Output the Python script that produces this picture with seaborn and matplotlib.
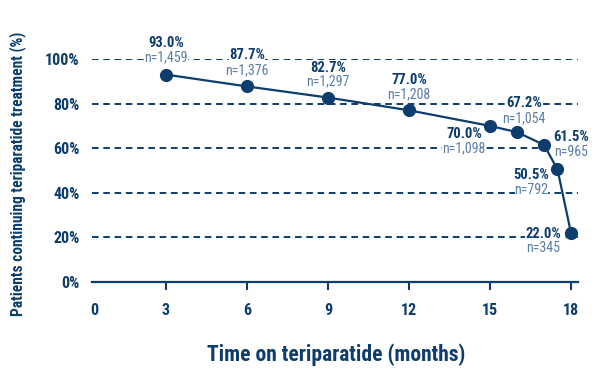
import matplotlib
matplotlib.use('Agg')
import matplotlib.pyplot as plt
import matplotlib.transforms as mtransforms
import seaborn as sns
import pandas as pd

# Data
months = [3, 6, 9, 12, 15, 16, 17, 17.5, 18]
pct_continuing = [93.0, 87.7, 82.7, 77.0, 70.0, 67.2, 61.5, 50.5, 22.0]
n_patients = ['1,459', '1,376', '1,297', '1,208', '1,098', '1,054', '965', '792', '345']
x_ticks = [0, 3, 6, 9, 12, 15, 18]
y_ticks = [0, 20, 40, 60, 80, 100]

# label placement in pixels: (dx, dy of percent label, dy of n label)
label_px = [(0, 32, 17), (0, 31, 16), (0, 30, 16), (0, 30, 16), (-26, -8, -22),
            (7, 29, 14), (27, 8, -7), (-26, -6, -21), (-28, -1, -15)]

navy = '#0d3d6d'
light = '#5a7da6'

sns.set_style('white')
plt.rcParams['font.family'] = ['Roboto Condensed', 'DejaVu Sans']

df = pd.DataFrame({'month': months, 'pct': pct_continuing})

fig = plt.figure(figsize=(6, 3.71), dpi=100)
ax = fig.add_axes([85 / 600, 1 - 282 / 371, 493 / 600, 223 / 371])
ax.set_xlim(0, 18.26)
ax.set_ylim(0, 100)

x_start = 0.26  # gridlines / axis line start just right of the 0 label

# dashed gridlines
ax.hlines(y_ticks[1:], x_start, 18.26, color=navy, lw=1.4, ls=(0, (3.4, 2.4)), zorder=0)

sns.lineplot(data=df, x='month', y='pct', ax=ax, color=navy, lw=1.6,
             marker='o', markersize=9.5, markeredgewidth=0, zorder=3)

pt = 0.72  # px -> points at 100 dpi
for m, p, n, (dx, dyp, dyn) in zip(months, pct_continuing, n_patients, label_px):
    ax.annotate(f'n={n}', (m, p), xytext=(dx * pt, dyn * pt), textcoords='offset points',
                ha='center', va='center', fontsize=10, color=light,
                bbox=dict(facecolor='white', edgecolor='none', pad=0), zorder=4,
                annotation_clip=False)
    ax.annotate(f'{p:.1f}%', (m, p), xytext=(dx * pt, dyp * pt), textcoords='offset points',
                ha='center', va='center', fontsize=10.5, fontweight='bold', color=navy,
                bbox=dict(facecolor='white', edgecolor='none', pad=0), zorder=5,
                annotation_clip=False)

ax.set_xticks(x_ticks)
ax.set_yticks(y_ticks)
ax.set_yticklabels([f'{v}%' for v in y_ticks])

for s in ['top', 'right', 'left']:
    ax.spines[s].set_visible(False)
ax.spines['bottom'].set_color(navy)
ax.spines['bottom'].set_linewidth(1.6)
ax.spines['bottom'].set_bounds(x_start, 18.26)

ax.tick_params(axis='x', bottom=True, direction='out', length=6, width=1.5, color=navy,
               labelsize=11.5, labelcolor=navy, pad=9)
ax.tick_params(axis='y', left=False, length=0, labelsize=11.5, labelcolor=navy, pad=4)
for lbl in ax.get_xticklabels() + ax.get_yticklabels():
    lbl.set_fontweight('bold')

# no tick mark at 0
tick0 = ax.xaxis.get_major_ticks()[0]
tick0.tick1line.set_visible(False)

ax.set_xlabel('Time on teriparatide (months)', fontsize=15.5, fontweight='bold', color=navy)
ax.xaxis.set_label_coords(0.509, -0.327)
ax.xaxis.label.set_va('center')
ax.set_ylabel('Patients continuing teriparatide treatment (%)', fontsize=11.2,
              fontweight='bold', color=navy)
ax.yaxis.set_label_coords(-0.136, 0.484)
ax.yaxis.label.set_va('center')

# nudge the 0 label right as in the original
fig.canvas.draw()
lab0 = ax.get_xticklabels()[0]
lab0.set_transform(lab0.get_transform() + mtransforms.ScaledTranslation(9 / 100, 0, fig.dpi_scale_trans))

fig.savefig('out.png', dpi=100)
